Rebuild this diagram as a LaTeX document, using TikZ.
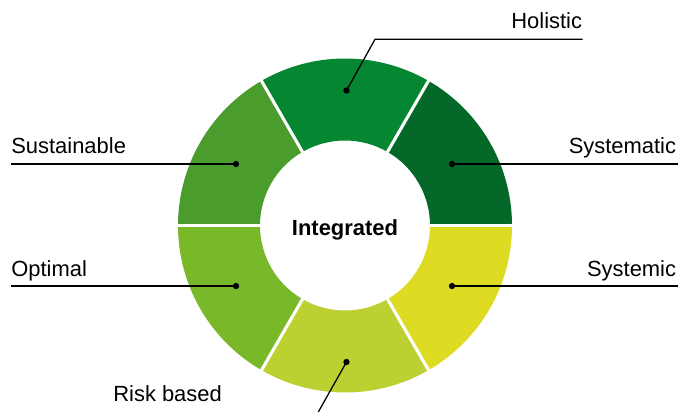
\documentclass[tikz,border=0pt]{standalone}
\usepackage{fontspec}
\setmainfont{Liberation Sans}

\definecolor{holisticgreen}{RGB}{5,134,48}
\definecolor{systematicgreen}{RGB}{3,104,40}
\definecolor{systemicyellow}{RGB}{222,220,34}
\definecolor{riskgreen}{RGB}{188,208,50}
\definecolor{optimalgreen}{RGB}{120,184,41}
\definecolor{sustainablegreen}{RGB}{74,156,45}

\begin{document}
\begin{tikzpicture}[
            scale = 0.025, % one unit = one pixel of the sketch
            line width = 0.9pt, % leader lines
            font = \fontsize{15.6}{18}\selectfont
        ]

        \tikzstyle{dot}=[
            circle,
            fill = black,
            inner sep = 0pt,
            minimum size = 4.5pt
        ]
        \tikzstyle{gap}=[white, line width = 2.2pt]
        \tikzstyle{tag}=[inner sep = 0pt]

        \useasboundingbox (-345,-186.5) rectangle (333,225.5);

        % ring, six pieces
        \fill[systematicgreen] (0:85) arc (0:60:85) -- (60:167) arc (60:0:167) -- cycle;
        \fill[holisticgreen] (60:85) arc (60:120:85) -- (120:167) arc (120:60:167) -- cycle;
        \fill[sustainablegreen] (120:85) arc (120:180:85) -- (180:167) arc (180:120:167) -- cycle;
        \fill[optimalgreen] (180:85) arc (180:240:85) -- (240:167) arc (240:180:167) -- cycle;
        \fill[riskgreen] (240:85) arc (240:300:85) -- (300:167) arc (300:240:167) -- cycle;
        \fill[systemicyellow] (300:85) arc (300:360:85) -- (360:167) arc (360:300:167) -- cycle;

        \draw[gap] (0:172) -- (180:172);
        \draw[gap] (60:172) -- (240:172);
        \draw[gap] (120:172) -- (300:172);

        \node[tag, anchor=base, font=\fontsize{15.6}{18}\selectfont\bfseries] (c) at (0,-9.5) {Integrated};

        \node[dot] (hol) at (1.5,135) {};
        \node[dot] (sym) at (107,61.5) {};
        \node[dot] (sus) at (-109,61.5) {};
        \node[dot] (opt) at (-109,-60.5) {};
        \node[dot] (sys) at (107,-60.5) {};
        \node[dot] (rsk) at (1.5,-136.5) {};

        \coordinate (hb) at (30,186.2);
        \coordinate (he) at (237.7,186.2);
        \coordinate (syme) at (333,61.5);
        \coordinate (suse) at (-334.3,61.5);
        \coordinate (opte) at (-334.3,-60.5);
        \coordinate (syse) at (333,-60.5);
        \coordinate (re) at (-26.7,-186.5);

        \node[tag, anchor=base east] (holT) at (237.7,197.5) {Holistic};
        \node[tag, anchor=base east] (symT) at (331.7,72.5) {Systematic};
        \node[tag, anchor=base west] (susT) at (-334.3,72.5) {Sustainable};
        \node[tag, anchor=base west] (optT) at (-334.3,-51.2) {Optimal};
        \node[tag, anchor=base east] (sysT) at (331.7,-51.2) {Systemic};
        \node[tag, anchor=base west] (rskT) at (-232.3,-176.2) {Risk based};

        \draw (hol.center) -- (hb) -- (he);
        \draw (sym.center) -- (syme);
        \draw (sus.center) -- (suse);
        \draw (opt.center) -- (opte);
        \draw (sys.center) -- (syse);
        \draw (rsk.center) -- (re);

        %\draw[red] (-345,-186.5) rectangle (333,225.5);
    \end{tikzpicture}
\end{document}
